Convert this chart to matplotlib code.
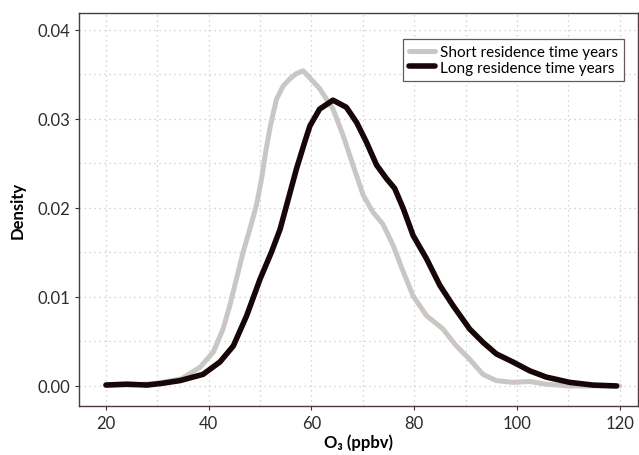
import numpy as np
import matplotlib
matplotlib.use("Agg")
import matplotlib.pyplot as plt
from matplotlib.ticker import MultipleLocator

# density curves
short_x = [20, 25, 30, 34.7, 38.3, 40.9, 42.8, 44.1, 45.4, 46.7, 48.0, 49.3, 50.3, 51.1,
           52.0, 53.2, 54.5, 55.8, 57.1, 58.4, 61.6, 64.2, 66.2, 68.1, 70.1, 72.0, 73.9,
           75.9, 77.9, 79.8, 82.4, 85.6, 88.2, 90.8, 93.4, 96.0, 99.2, 102.5, 105.7,
           110.3, 115, 120]
short_y = [0.0001, 0.0001, 0.0003, 0.0008, 0.0021, 0.0038, 0.0064, 0.0090, 0.0120, 0.0150,
           0.0176, 0.0203, 0.0233, 0.0263, 0.0292, 0.0322, 0.0337, 0.0345, 0.0351, 0.0354,
           0.0334, 0.0311, 0.0281, 0.0248, 0.0214, 0.0195, 0.0182, 0.0158, 0.0128, 0.0101,
           0.0079, 0.0064, 0.0045, 0.0030, 0.0013, 0.0006, 0.0004, 0.0005, 0.0002, 0.0000,
           0.0000, 0.0000]

long_x = [20, 24, 28, 31, 34.4, 38.9, 42.2, 44.8, 47.4, 50.0, 52.2, 53.9, 55.5, 57.1, 58.7,
          59.7, 61.6, 64.2, 66.8, 68.8, 70.7, 72.7, 74.6, 76.2, 77.9, 79.8, 82.4, 85.0,
          87.6, 90.8, 93.4, 96.0, 99.2, 102.5, 105.7, 110.3, 114.8, 119.4]
long_y = [0.0001, 0.0002, 0.0001, 0.0003, 0.0006, 0.0013, 0.0027, 0.0045, 0.0079, 0.0120,
          0.0150, 0.0176, 0.0210, 0.0244, 0.0274, 0.0292, 0.0311, 0.0321, 0.0313, 0.0296,
          0.0274, 0.0248, 0.0233, 0.0222, 0.0199, 0.0169, 0.0143, 0.0113, 0.0090, 0.0064,
          0.0049, 0.0036, 0.0027, 0.0017, 0.0010, 0.0004, 0.0001, 0.0000]

labels = ["Short residence time years", "Long residence time years"]
colors = ["#cac6c4", "#170607"]

plt.rcParams['font.family'] = ['Lato', 'DejaVu Sans']

fig = plt.figure(figsize=(6.39, 4.56), dpi=100)
ax = fig.add_axes([0.1236, 0.1075, 0.875, 0.862])

ax.plot(short_x, short_y, color=colors[0], lw=3.6, solid_capstyle='round',
        solid_joinstyle='round', label=labels[0])
ax.plot(long_x, long_y, color=colors[1], lw=4.0, solid_capstyle='round',
        solid_joinstyle='round', label=labels[1])

ax.set_xlim(14.75, 123.6)
ax.set_ylim(-0.00225, 0.0419)
ax.xaxis.set_major_locator(MultipleLocator(20))
ax.xaxis.set_minor_locator(MultipleLocator(10))
ax.yaxis.set_major_locator(MultipleLocator(0.01))
ax.yaxis.set_minor_locator(MultipleLocator(0.005))
ax.yaxis.set_major_formatter(plt.FormatStrFormatter('%.2f'))

ax.grid(True, which='both', color='#c8c8c8', linestyle=(0, (1, 3)), lw=0.9)
ax.set_axisbelow(True)

for side in ['top', 'right', 'left', 'bottom']:
    ax.spines[side].set_color('#4a3c3c')
    ax.spines[side].set_linewidth(1.0)

ax.tick_params(which='major', direction='out', length=3, width=0.8, color='#333333',
               labelsize=12, labelcolor='#2b2b2b')
ax.tick_params(which='minor', length=0)

ax.set_xlabel('O₃ (ppbv)', fontsize=12, fontweight='bold', labelpad=2)
ax.set_ylabel('Density', fontsize=12, fontweight='bold', labelpad=8)

leg = ax.legend(loc='upper right', bbox_to_anchor=(0.988, 0.953), fontsize=11,
                handlelength=1.7, handletextpad=0.3, borderpad=0.4,
                labelspacing=0.1, fancybox=False, framealpha=1)
leg.get_frame().set_edgecolor('#6b5555')
leg.get_frame().set_linewidth(0.9)

fig.savefig('out.png', dpi=100)
